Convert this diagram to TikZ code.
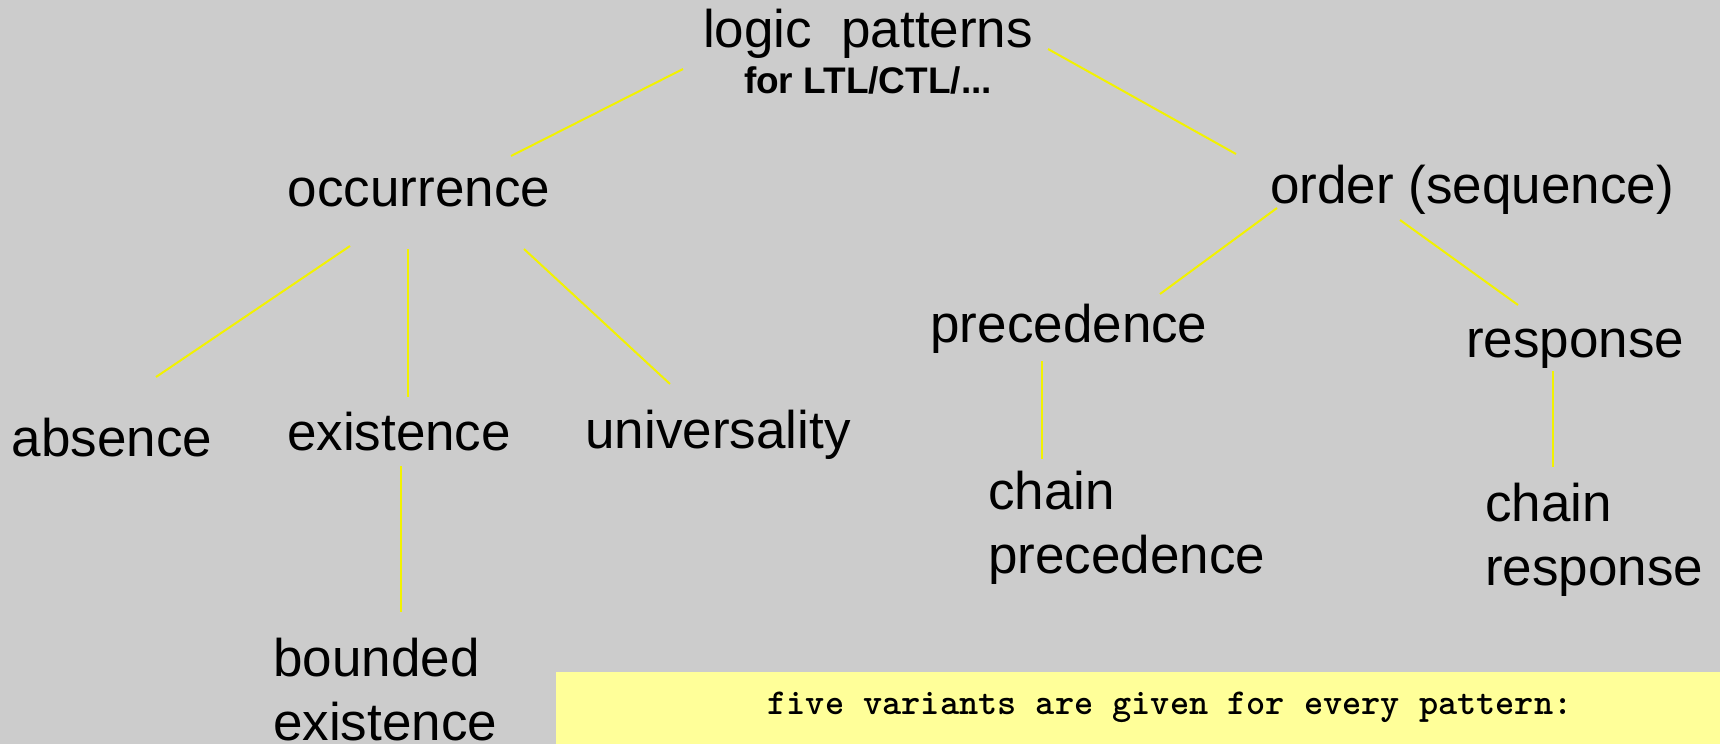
\documentclass[tikz,border=0pt]{standalone}
\usepackage{fontspec}
\setmainfont{Liberation Sans}
\usetikzlibrary{calc}
\definecolor{bg}{HTML}{CCCCCC}
\definecolor{note}{HTML}{FFFF99}
\definecolor{link}{HTML}{F2F200}
\begin{document}
\begin{tikzpicture}[x=1pt,y=-1pt,
  lbl/.style={inner sep=0pt,anchor=base,font=\fontsize{53}{64}\selectfont},
  ml/.style={inner sep=0pt,anchor=north west,align=left,font=\fontsize{53}{64}\selectfont},
  conn/.style={draw=link,line width=2pt}]
\fill[bg] (0,0) rectangle (1720,744);
\useasboundingbox (0,0) rectangle (1720,744);
\fill[note] (556,672) rectangle (1720,744);
\node[inner sep=0pt,anchor=base,font=\fontsize{36.5}{42}\selectfont\ttfamily\bfseries\addfontfeatures{FakeBold=1.6}] (noteText) at (1170,714) {five variants are given for every pattern:};

\node[lbl] (logic) at (868,47) {logic\ \ patterns};
\node[inner sep=0pt,anchor=base,font=\fontsize{37}{44}\selectfont\bfseries] (sub) at (868,93) {for LTL/CTL/...};
\node[lbl] (occ) at (419,206) {occurrence};
\node[lbl] (ord) at (1472,203) {order (sequence)};
\node[lbl] (abs) at (112,456) {absence};
\node[lbl] (ex) at (399,450) {existence};
\node[lbl] (uni) at (718,448) {universality};
\node[lbl] (prec) at (1069,342) {precedence};
\node[lbl] (resp) at (1575,357) {response};
\node[ml] (cprec) at (988,471) {chain\\precedence};
\node[ml] (cresp) at (1485,483) {chain\\response};
\node[ml] (bex) at (273,638) {bounded\\existence};

\coordinate (a1) at (683,69);  \coordinate (a2) at (511,156);
\coordinate (b1) at (1048,49); \coordinate (b2) at (1236,154);
\coordinate (c1) at (350,246); \coordinate (c2) at (156,377);
\coordinate (d1) at (408,249); \coordinate (d2) at (408,397);
\coordinate (e1) at (524,249); \coordinate (e2) at (670,384);
\coordinate (f1) at (401,466); \coordinate (f2) at (401,612);
\coordinate (g1) at (1277,208); \coordinate (g2) at (1160,294);
\coordinate (h1) at (1400,220); \coordinate (h2) at (1518,305);
\coordinate (i1) at (1042,361); \coordinate (i2) at (1042,459);
\coordinate (j1) at (1553,371); \coordinate (j2) at (1553,467);

\draw[conn] (a1) -- (a2);
\draw[conn] (b1) -- (b2);
\draw[conn] (c1) -- (c2);
\draw[conn] (d1) -- (d2);
\draw[conn] (e1) -- (e2);
\draw[conn] (f1) -- (f2);
\draw[conn] (g1) -- (g2);
\draw[conn] (h1) -- (h2);
\draw[conn] (i1) -- (i2);
\draw[conn] (j1) -- (j2);
\end{tikzpicture}
\end{document}
